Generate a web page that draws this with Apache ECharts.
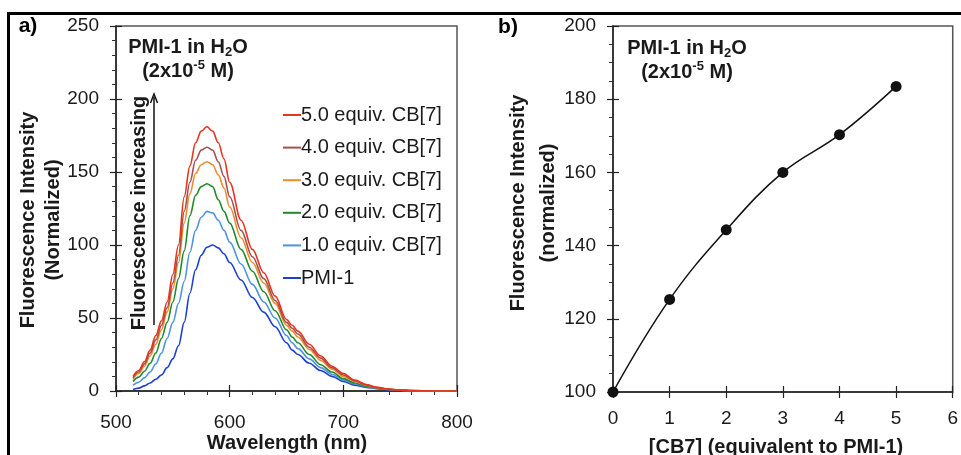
<!DOCTYPE html>
<html>
<head>
<meta charset="utf-8">
<script src="https://cdn.jsdelivr.net/npm/echarts@6/dist/echarts.min.js"></script>
<style>
  html, body { margin: 0; padding: 0; background: #fff; }
  #chart { width: 961px; height: 455px; }
</style>
</head>
<body>
<div id="chart"></div>
<script>
// panel a: emission spectra (wavelength in nm)
const wavelength = [515, 520, 525, 530, 535, 540, 545, 550, 555, 560, 565, 570, 575, 580, 585, 590, 595, 600,
  610, 620, 630, 640, 650, 655, 660, 670, 680, 690, 700, 710, 720, 730, 740, 750, 760, 780, 800];

const pmi1 = [1, 2, 3.5, 5.5, 8, 11, 16, 22, 31, 47, 67, 83, 93, 98.5, 100, 98, 94, 88,
  76, 64, 54, 44, 33, 28, 25, 19, 14, 10, 6.5, 4, 2.5, 1.5, 0.8, 0.4, 0.2, 0, 0];
const equiv1 = [4, 6, 9, 13, 18.5, 26, 36, 47, 60, 75, 95, 110, 119, 123, 122, 117, 110, 102,
  87, 73, 61, 50, 38, 33, 29, 22, 16, 11.5, 7.5, 4.8, 3, 1.8, 1, 0.5, 0.2, 0, 0];
const equiv2 = [6.5, 9.5, 13.5, 19, 26, 36, 47, 61, 77, 96, 120, 134, 140, 142, 140, 131, 123, 115,
  97, 82, 68, 55, 42, 37, 33, 25, 18, 13, 8.5, 5.5, 3.5, 2, 1.1, 0.5, 0.2, 0, 0];
const equiv3 = [8, 12, 17, 24, 32, 42, 54, 70, 88, 115, 135, 149, 155, 157, 155, 148, 139, 126,
  105, 88, 74, 60, 45, 41, 37, 28.5, 21, 15, 10, 6.5, 4, 2.2, 1.2, 0.6, 0.3, 0, 0];
const equiv4 = [9, 13, 18.5, 26, 35, 45, 57, 74, 93, 123, 143, 158, 165, 167, 165, 157, 147, 133,
  110, 92, 77, 62, 47, 43, 39, 30, 22.5, 16, 11, 7, 4.2, 2.3, 1.2, 0.6, 0.3, 0, 0];
const equiv5 = [10, 14, 20, 28, 38, 48, 61, 80, 100, 133, 154, 170, 178, 181, 178, 170, 159, 143,
  117, 97, 81, 65, 49, 45, 41, 32, 24, 17, 12, 7.5, 4.5, 2.5, 1.3, 0.6, 0.3, 0, 0];

const spectraNames = ["5.0 equiv. CB[7]", "4.0 equiv. CB[7]", "3.0 equiv. CB[7]",
  "2.0 equiv. CB[7]", "1.0 equiv. CB[7]", "PMI-1"];
const spectraValues = [equiv5, equiv4, equiv3, equiv2, equiv1, pmi1];
const spectraColors = ["#e8341f", "#a3514c", "#ee8c2c", "#1f8a2b", "#4d93e0", "#1c3fd0"];

// panel b: titration
const cb7Equiv = [0, 1, 2, 3, 4, 5];
const cb7Intensity = [100, 125.3, 144.3, 160, 170.3, 183.5];

const FONT = "'Liberation Sans', Arial, Helvetica, sans-serif";
const INK = "#1a1a1a";

// main axis carries labels + outside ticks, twin axis adds inside half of major ticks
function axisPair(dim, grid, min, max, interval, minorSplit, labelMargin) {
  const pos = dim === "x" ? "bottom" : "left";
  const main = {
    type: "value", gridIndex: grid, min: min, max: max, interval: interval, position: pos,
    axisLine: { show: true, onZero: false, lineStyle: { color: "#222", width: 1.5 } },
    axisTick: { show: true, inside: false, length: 6, lineStyle: { color: "#222", width: 1.2 } },
    minorTick: { show: minorSplit > 0, splitNumber: minorSplit || 5, length: 4, lineStyle: { color: "#333", width: 1 } },
    axisLabel: { margin: labelMargin, fontSize: 19, color: INK, fontFamily: FONT },
    splitLine: { show: false },
    minorSplitLine: { show: false },
  };
  const twin = {
    type: "value", gridIndex: grid, min: min, max: max, interval: interval, position: pos,
    axisLine: { show: false, onZero: false },
    axisTick: { show: true, inside: true, length: 6, lineStyle: { color: "#222", width: 1.2 } },
    axisLabel: { show: false },
    splitLine: { show: false },
  };
  return [main, twin];
}

const chart = echarts.init(document.getElementById("chart"));

const spectraSeries = spectraNames.map((name, i) => ({
  name: name,
  type: "line",
  xAxisIndex: 0,
  yAxisIndex: 0,
  data: wavelength.map((w, j) => [w, spectraValues[i][j]]),
  showSymbol: false,
  symbol: "none",
  smooth: 0.35,
  smoothMonotone: "x",
  lineStyle: { color: spectraColors[i], width: 1.6 },
  itemStyle: { color: spectraColors[i] },
  z: 10 - i,
}));

const titleStyle = { fill: INK, font: "bold 20px " + FONT, textAlign: "center", textVerticalAlign: "middle", align: "center", verticalAlign: "middle" };

function textEl(text, x, y, style, rotation) {
  return {
    type: "text", x: x, y: y, rotation: rotation || 0, z: 100,
    style: Object.assign({ text: text }, style),
  };
}

const richNote = {
  b: { fontFamily: FONT, fontWeight: "bold", fontSize: 20, color: INK, lineHeight: 24 },
  sub: { fontFamily: FONT, fontWeight: "bold", fontSize: 13, color: INK, lineHeight: 15, verticalAlign: "bottom" },
  sup: { fontFamily: FONT, fontWeight: "bold", fontSize: 13, color: INK, lineHeight: 15, verticalAlign: "top" },
};

function noteEl(x, y) {
  return {
    type: "text", x: x, y: y, z: 100,
    style: {
      text: "{b|PMI-1 in H}{sub|2}{b|O}\n{b|(2x10}{sup|-5}{b| M)}",
      rich: richNote, fill: INK,
      textAlign: "center", textVerticalAlign: "middle", align: "center", verticalAlign: "middle",
    },
  };
}

const ax0 = axisPair("x", 0, 500, 800, 100, 5, 22);
const ay0 = axisPair("y", 0, 0, 250, 50, 5, 17);
const ax1 = axisPair("x", 1, 0, 6, 1, 0, 17);
const ay1 = axisPair("y", 1, 100, 200, 20, 4, 17);

chart.setOption({
  backgroundColor: "#fff",
  animation: false,
  textStyle: { fontFamily: FONT },
  grid: [
    { left: 116, top: 26, width: 341, height: 365, show: true, borderColor: "#555", borderWidth: 1.5 },
    { left: 613, top: 26, width: 340, height: 366, show: true, borderColor: "#555", borderWidth: 1.5 },
  ],
  xAxis: [ax0[0], ax0[1], ax1[0], ax1[1]],
  yAxis: [ay0[0], ay0[1], ay1[0], ay1[1]],
  legend: {
    data: spectraNames,
    orient: "vertical",
    left: 278,
    top: 100,
    icon: "rect",
    itemWidth: 18,
    itemHeight: 2,
    itemGap: 12.6,
    selectedMode: false,
    textStyle: { fontFamily: FONT, fontSize: 20, color: INK, lineHeight: 20, padding: [0, 0, 0, -5] },
  },
  series: spectraSeries.concat([{
    name: "CB7 titration",
    type: "line",
    xAxisIndex: 2,
    yAxisIndex: 2,
    data: cb7Equiv.map((x, i) => [x, cb7Intensity[i]]),
    smooth: 0.4,
    symbol: "circle",
    symbolSize: 11,
    clip: false,
    lineStyle: { color: "#111", width: 1.5 },
    itemStyle: { color: "#111" },
  }]),
  graphic: [
    // figure frame
    { type: "line", shape: { x1: 7, y1: 13.5, x2: 961, y2: 13.5 }, style: { stroke: "#000", lineWidth: 3 }, z: 100 },
    { type: "line", shape: { x1: 8.5, y1: 12, x2: 8.5, y2: 455 }, style: { stroke: "#000", lineWidth: 3 }, z: 100 },
    // panel letters
    textEl("a)", 28, 26, { fill: "#000", font: "bold 21px " + FONT, textAlign: "center", textVerticalAlign: "middle", align: "center", verticalAlign: "middle" }),
    textEl("b)", 508, 27, { fill: "#000", font: "bold 21px " + FONT, textAlign: "center", textVerticalAlign: "middle", align: "center", verticalAlign: "middle" }),
    // panel a titles
    textEl("Fluorescence Intensity", 28, 220, titleStyle, Math.PI / 2),
    textEl("(Normalized)", 53, 220, titleStyle, Math.PI / 2),
    textEl("Wavelength (nm)", 287, 443, titleStyle),
    noteEl(188, 59),
    textEl("Fluorescence increasing", 139, 213, titleStyle, Math.PI / 2),
    { type: "line", shape: { x1: 154, y1: 325, x2: 154, y2: 97 }, style: { stroke: "#111", lineWidth: 1.5 }, z: 100 },
    { type: "polyline", shape: { points: [[150.5, 103], [154, 94], [157.5, 103]] }, style: { stroke: "#111", lineWidth: 1.5, fill: null }, z: 100 },
    // panel b titles
    textEl("Fluorescence Intensity", 518, 203, titleStyle, Math.PI / 2),
    textEl("(normalized)", 548, 203, titleStyle, Math.PI / 2),
    textEl("[CB7] (equivalent to PMI-1)", 776, 447, titleStyle),
    noteEl(687, 60),
  ],
});
</script>
</body>
</html>
